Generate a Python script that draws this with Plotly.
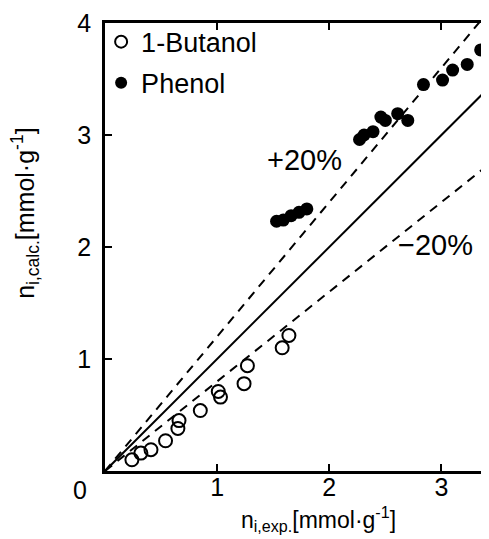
import plotly.graph_objects as go

# 1-Butanol (open circles)
butanol_exp = [0.24, 0.32, 0.41, 0.54, 0.65, 0.66, 0.85, 1.01, 1.03, 1.24, 1.27, 1.58, 1.64]
butanol_calc = [0.10, 0.16, 0.19, 0.27, 0.38, 0.45, 0.54, 0.71, 0.66, 0.78, 0.94, 1.10, 1.21]

# Phenol (filled circles)
phenol_exp = [1.53, 1.59, 1.66, 1.73, 1.80, 2.27, 2.31, 2.39, 2.46, 2.50, 2.61, 2.70,
              2.84, 3.01, 3.10, 3.23, 3.35]
phenol_calc = [2.23, 2.24, 2.28, 2.31, 2.34, 2.96, 3.00, 3.03, 3.16, 3.13, 3.19, 3.13,
               3.45, 3.49, 3.58, 3.63, 3.76]

# reference lines: y = factor * x
ref_x = [0.0, 3.46]
ref_factors = [1.0, 1.2, 0.8]
ref_dash = ["solid", "9px,7px", "9px,7px"]
ref_labels = ["", "+20%", "−20%"]
label_pos = [None, (1.78, 2.78), (2.95, 2.02)]

x_ticks = [1, 2, 3]
y_ticks = [1, 2, 3, 4]

FONT = "Liberation Sans"

fig = go.Figure()
for f, d in zip(ref_factors, ref_dash):
    fig.add_trace(go.Scatter(x=ref_x, y=[f * v for v in ref_x], mode="lines",
                             line=dict(color="black", width=2, dash=d),
                             showlegend=False, hoverinfo="skip"))

fig.add_trace(go.Scatter(x=butanol_exp, y=butanol_calc, mode="markers", name="1-Butanol",
                         legendgroup="a",
                         marker=dict(symbol="circle-open", size=13, color="black",
                                     line=dict(width=2, color="black"))))
fig.add_trace(go.Scatter(x=phenol_exp, y=phenol_calc, mode="markers", name="Phenol",
                         legendgroup="b",
                         marker=dict(symbol="circle", size=13, color="black")))

for lab, pos in zip(ref_labels, label_pos):
    if pos:
        fig.add_annotation(x=pos[0], y=pos[1], text=lab, showarrow=False,
                           xanchor="center", yanchor="middle",
                           font=dict(family=FONT, size=29, color="black"))

# corner zero
fig.add_annotation(xref="paper", yref="paper", x=-0.065, y=-0.043, text="0",
                   xanchor="center", yanchor="middle",
                   showarrow=False, font=dict(family=FONT, size=25, color="black"))
# axis titles
fig.add_annotation(xref="paper", yref="paper", x=0.55, y=-0.108,
                   xanchor="center", yanchor="middle",
                   text="n<sub>i,exp.</sub>[mmol·g<sup>-1</sup>]", showarrow=False,
                   font=dict(family=FONT, size=23, color="black"))
fig.add_annotation(xref="paper", yref="paper", x=-0.205, y=0.575, textangle=-90,
                   xanchor="center", yanchor="middle",
                   text="n<sub>i,calc.</sub>[mmol·g<sup>-1</sup>]", showarrow=False,
                   font=dict(family=FONT, size=25, color="black"))

axis_common = dict(showline=True, linecolor="black", linewidth=2.5, mirror="ticks",
                   ticks="inside", ticklen=7, tickwidth=2, tickcolor="black",
                   showgrid=False, zeroline=False,
                   tickfont=dict(family=FONT, size=25, color="black"))

fig.update_xaxes(range=[0, 3.46], tickvals=x_ticks, ticktext=[str(v) for v in x_ticks],
                 ticklabelstandoff=-8, **axis_common)
fig.update_yaxes(range=[0, 4], tickvals=y_ticks, ticktext=[str(v) for v in y_ticks],
                 ticklabelstandoff=6, **axis_common)

fig.update_layout(width=489, height=539, margin=dict(l=97, r=1, t=15, b=76),
                  plot_bgcolor="white", paper_bgcolor="white",
                  legend=dict(x=-0.01, y=1.012, xanchor="left", yanchor="top",
                              font=dict(family=FONT, size=27, color="black"),
                              bgcolor="rgba(0,0,0,0)", tracegroupgap=3,
                              itemsizing="constant"),
                  font=dict(family=FONT, color="black"))

fig.write_html("out.html")
